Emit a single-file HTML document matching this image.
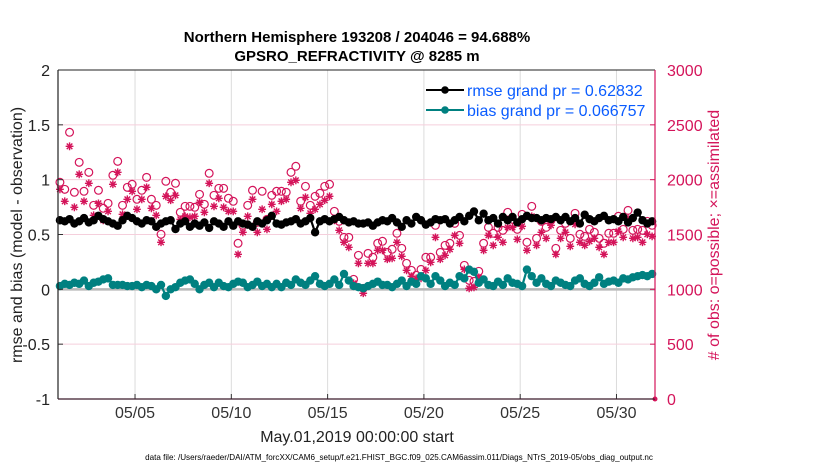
<!DOCTYPE html>
<html><head><meta charset="utf-8"><style>
body{margin:0;background:#fff;}
svg{display:block;font-family:"Liberation Sans",sans-serif;}
</style></head><body>
<svg id="chart" width="830" height="470" viewBox="0 0 830 470">
<text x="357" y="42" text-anchor="middle" font-size="15" font-weight="bold" fill="#000">Northern Hemisphere 193208 / 204046 = 94.688%</text>
<text x="357" y="61" text-anchor="middle" font-size="15" font-weight="bold" fill="#000">GPSRO_REFRACTIVITY @ 8285 m</text>
<g id="grid"></g>
<g id="marks"></g>
<g id="axes"></g>
<text transform="translate(22,235) rotate(-90)" text-anchor="middle" font-size="16" fill="#222">rmse and bias (model - observation)</text>
<text transform="translate(719,235) rotate(-90)" text-anchor="middle" font-size="16" fill="#d4145a"># of obs: o=possible; ×=assimilated</text>
<text x="357" y="442" text-anchor="middle" font-size="16" fill="#222">May.01,2019 00:00:00 start</text>
<text x="399" y="460" text-anchor="middle" font-size="8.1" fill="#000">data file: /Users/raeder/DAI/ATM_forcXX/CAM6_setup/f.e21.FHIST_BGC.f09_025.CAM6assim.011/Diags_NTrS_2019-05/obs_diag_output.nc</text>
<g>
<line x1="426" y1="90" x2="464" y2="90" stroke="#000" stroke-width="2"/>
<circle cx="445" cy="90" r="3.8" fill="#000"/>
<text x="467" y="96" font-size="16" fill="#0a5cff">rmse grand pr = 0.62832</text>
<line x1="426" y1="110" x2="464" y2="110" stroke="#008080" stroke-width="2"/>
<circle cx="445" cy="110" r="3.8" fill="#008080"/>
<text x="467" y="116" font-size="16" fill="#0a5cff">bias grand pr = 0.066757</text>
</g>
</svg>
<script>
const xTicks = [5,10,15,20,25,30];
const xTickLabels = ["05/05","05/10","05/15","05/20","05/25","05/30"];
const yTicks = [2,1.5,1,0.5,0,-0.5,-1];
const yTickLabels = ["2","1.5","1","0.5","0","-0.5","-1"];
const y2Ticks = [3000,2500,2000,1500,1000,500,0];
const y2TickLabels = ["3000","2500","2000","1500","1000","500","0"];
const rmse = [
0.63,0.62,0.64,0.60, 0.62,0.65,0.61,0.63, 0.67,0.64,0.62,0.60, 0.58,0.63,0.67,0.65,
0.62,0.60,0.63,0.62, 0.57,0.60,0.62,0.63, 0.55,0.60,0.62,0.57, 0.60,0.58,0.61,0.56,
0.62,0.60,0.57,0.62, 0.58,0.62,0.60,0.59, 0.57,0.62,0.60,0.63, 0.67,0.60,0.59,0.61,
0.62,0.64,0.60,0.62, 0.65,0.52,0.62,0.64, 0.62,0.64,0.66,0.63, 0.61,0.62,0.60,0.60,
0.61,0.58,0.61,0.63, 0.62,0.65,0.61,0.57, 0.63,0.60,0.66,0.63, 0.59,0.61,0.64,0.63,
0.64,0.60,0.63,0.66, 0.62,0.67,0.71,0.63, 0.69,0.63,0.65,0.60, 0.66,0.63,0.66,0.61,
0.64,0.67,0.65,0.65, 0.63,0.65,0.64,0.66, 0.63,0.66,0.62,0.65, 0.60,0.68,0.64,0.62,
0.65,0.67,0.63,0.64, 0.62,0.66,0.61,0.65, 0.70,0.63,0.60,0.62];
const bias = [
0.03,0.05,0.04,0.06, 0.05,0.08,0.03,0.06, 0.07,0.09,0.10,0.04, 0.04,0.04,0.03,0.03,
0.04,0.02,0.04,0.03, 0.00,0.04,-0.06,0.00, 0.02,0.06,0.08,0.09, 0.05,0.00,0.04,0.06,
0.02,0.06,0.03,0.02, 0.05,0.07,0.06,0.02, 0.04,0.07,0.03,0.05, 0.02,0.05,0.02,0.06,
0.04,0.09,0.06,0.04, 0.08,0.12,0.05,0.03, 0.05,0.09,0.04,0.14, 0.08,0.03,0.02,0.01,
0.03,0.05,0.07,0.04, 0.04,0.02,0.05,0.08, 0.03,0.07,0.05,0.12, 0.10,0.05,0.12,0.08,
0.03,0.06,0.04,0.12, 0.10,0.18,0.16,0.06, 0.09,0.04,0.03,0.07, 0.04,0.10,0.06,0.05,
0.03,0.18,0.12,0.06, 0.10,0.05,0.03,0.08, 0.06,0.04,0.03,0.08, 0.10,0.05,0.03,0.06,
0.11,0.05,0.07,0.08, 0.06,0.10,0.09,0.11, 0.12,0.13,0.12,0.14];
const possible = [
1976,1912,2432,1885,2158,1894,2067,1766,1903,1739,1784,2040,2167,1766,1930,1958,
1821,1903,2021,1821,1766,1502,1985,1885,1967,1702,1757,1757,1748,1866,1775,2058,
1857,1921,1921,1830,1803,1420,1584,1766,1903,1611,1894,1638,1857,1894,1894,1885,
2067,2122,1803,1939,1766,1848,1876,1939,1958,1711,1620,1474,1474,1091,1310,
1009,1328,1292,1420,1438,1337,1365,1511,1374,1237,1173,1128,1182,1292,1292,1584,
1337,1401,1420,1602,1492,1219,1082,1073,1164,1420,1565,1511,1565,1538,1702,
1638,1547,1684,1429,1757,1465,1620,1565,1629,1374,1538,1602,1465,1693,1502,1483,
1547,1520,1465,1420,1511,1511,1666,1547,1720,1538,1547,1538,1620,1584];
const assimilated = [
1912,1803,2304,1748,2049,1803,1967,1675,1784,1629,1711,1958,2067,1684,1821,1894,
1730,1821,1930,1739,1675,1429,1848,1812,1857,1638,1666,1657,1666,1793,1702,1967,
1757,1830,1748,1711,1711,1319,1520,1666,1821,1520,1730,1547,1775,1711,1803,1821,
1976,1994,1739,1839,1693,1730,1775,1812,1848,1629,1538,1429,1383,1055,1237,
964,1237,1237,1356,1356,1274,1283,1429,1301,1173,1119,1100,1100,1173,1246,1474,
1274,1310,1365,1492,1420,1182,1009,1018,1109,1356,1492,1401,1474,1429,1565,
1565,1456,1575,1356,1666,1401,1520,1465,1584,1319,1465,1520,1392,1593,1429,1401,
1438,1465,1383,1319,1429,1429,1529,1474,1648,1465,1474,1429,1502,1483];
const tStart = 1.1, tStep = 0.25;

const L=58,R=655,T=70,B=399;
const xs = d => L + (d-1)/(32-1)*(R-L);
const ys = v => B - (v-(-1))/3*(B-T);
const y2s = c => B - c/3000*(B-T);
const NS="http://www.w3.org/2000/svg";
function mk(tag, attrs, parent){const e=document.createElementNS(NS,tag);for(const k in attrs)e.setAttribute(k,attrs[k]);parent.appendChild(e);return e;}
const grid=document.getElementById('grid'), marks=document.getElementById('marks'), axes=document.getElementById('axes');
const RED="#d4145a";

xTicks.forEach((d,i)=>{
  const g=mk('line',{x1:xs(d),x2:xs(d),y1:T,y2:B,stroke:"#dcdcdc","stroke-width":1},grid);
  
  
  const t=mk('text',{x:xs(d),y:B+19,"text-anchor":"middle","font-size":16,fill:"#333"},axes);
  t.textContent=xTickLabels[i];
  
  
  mk('line',{x1:xs(d),x2:xs(d),y1:B,y2:B-5,stroke:"#333"},axes);
});
yTicks.forEach((v,i)=>{
  if(v!==0 && v!==2 && v!==-1){
    const g=mk('line',{x1:L,x2:R,y1:ys(v),y2:ys(v),stroke:"#f5cfdc","stroke-width":1},grid);
    
    
  }
  const t=mk('text',{x:L-8,y:ys(v)+6,"text-anchor":"end","font-size":16,fill:"#222"},axes);
  t.textContent=yTickLabels[i];
  
  
  mk('line',{x1:L,x2:L+5,y1:ys(v),y2:ys(v),stroke:"#333"},axes);
});
y2Ticks.forEach((c,i)=>{
  const t=mk('text',{x:R+12,y:y2s(c)+6,"text-anchor":"start","font-size":16,fill:RED},axes);
  t.textContent=y2TickLabels[i];
  
  
  mk('line',{x1:R,x2:R-5,y1:y2s(c),y2:y2s(c),stroke:RED},axes);
});
const zl=mk('line',{x1:L,x2:R,y1:ys(0),y2:ys(0),stroke:"#b8b8b8","stroke-width":2.5},grid);



possible.forEach((c,i)=>{
  const x=xs(tStart+i*tStep), y=y2s(c);
  const e=mk('circle',{cx:x,cy:y,r:3.9,fill:"none",stroke:RED,"stroke-width":1.2},marks);
  
  
});
assimilated.forEach((c,i)=>{
  const x=xs(tStart+i*tStep), y=y2s(c), s=3.9, d=2.8;
  const p=`M${x-s},${y}H${x+s}M${x},${y-s}V${y+s}M${x-d},${y-d}L${x+d},${y+d}M${x-d},${y+d}L${x+d},${y-d}`;
  const e=mk('path',{d:p,stroke:RED,"stroke-width":1.4,fill:"none"},marks);
  
  
});
function series(vals,color,name){
  const pts=vals.map((v,i)=>xs(tStart+i*tStep)+","+ys(v)).join(" ");
  const pl=mk('polyline',{points:pts,fill:"none",stroke:color,"stroke-width":2.2},marks);
  
  
  vals.forEach((v,i)=>{
    const c=mk('circle',{cx:xs(tStart+i*tStep),cy:ys(v),r:4.2,fill:color},marks);
    
    
  });
}
series(bias,"#008080","bias");
series(rmse,"#000000","rmse");

const em=mk('circle',{cx:R,cy:y2s(0),r:2.5,fill:RED},marks);



mk('line',{x1:L,x2:L,y1:T,y2:B,stroke:"#222","stroke-width":1.2},axes);
mk('line',{x1:L,x2:R,y1:B,y2:B,stroke:"#3a1a2a","stroke-width":1.2},axes);
mk('line',{x1:L,x2:R,y1:T,y2:T,stroke:"#222","stroke-width":1},axes);
mk('line',{x1:R,x2:R,y1:T,y2:B,stroke:RED,"stroke-width":1.2},axes);
</script>
</body></html>
